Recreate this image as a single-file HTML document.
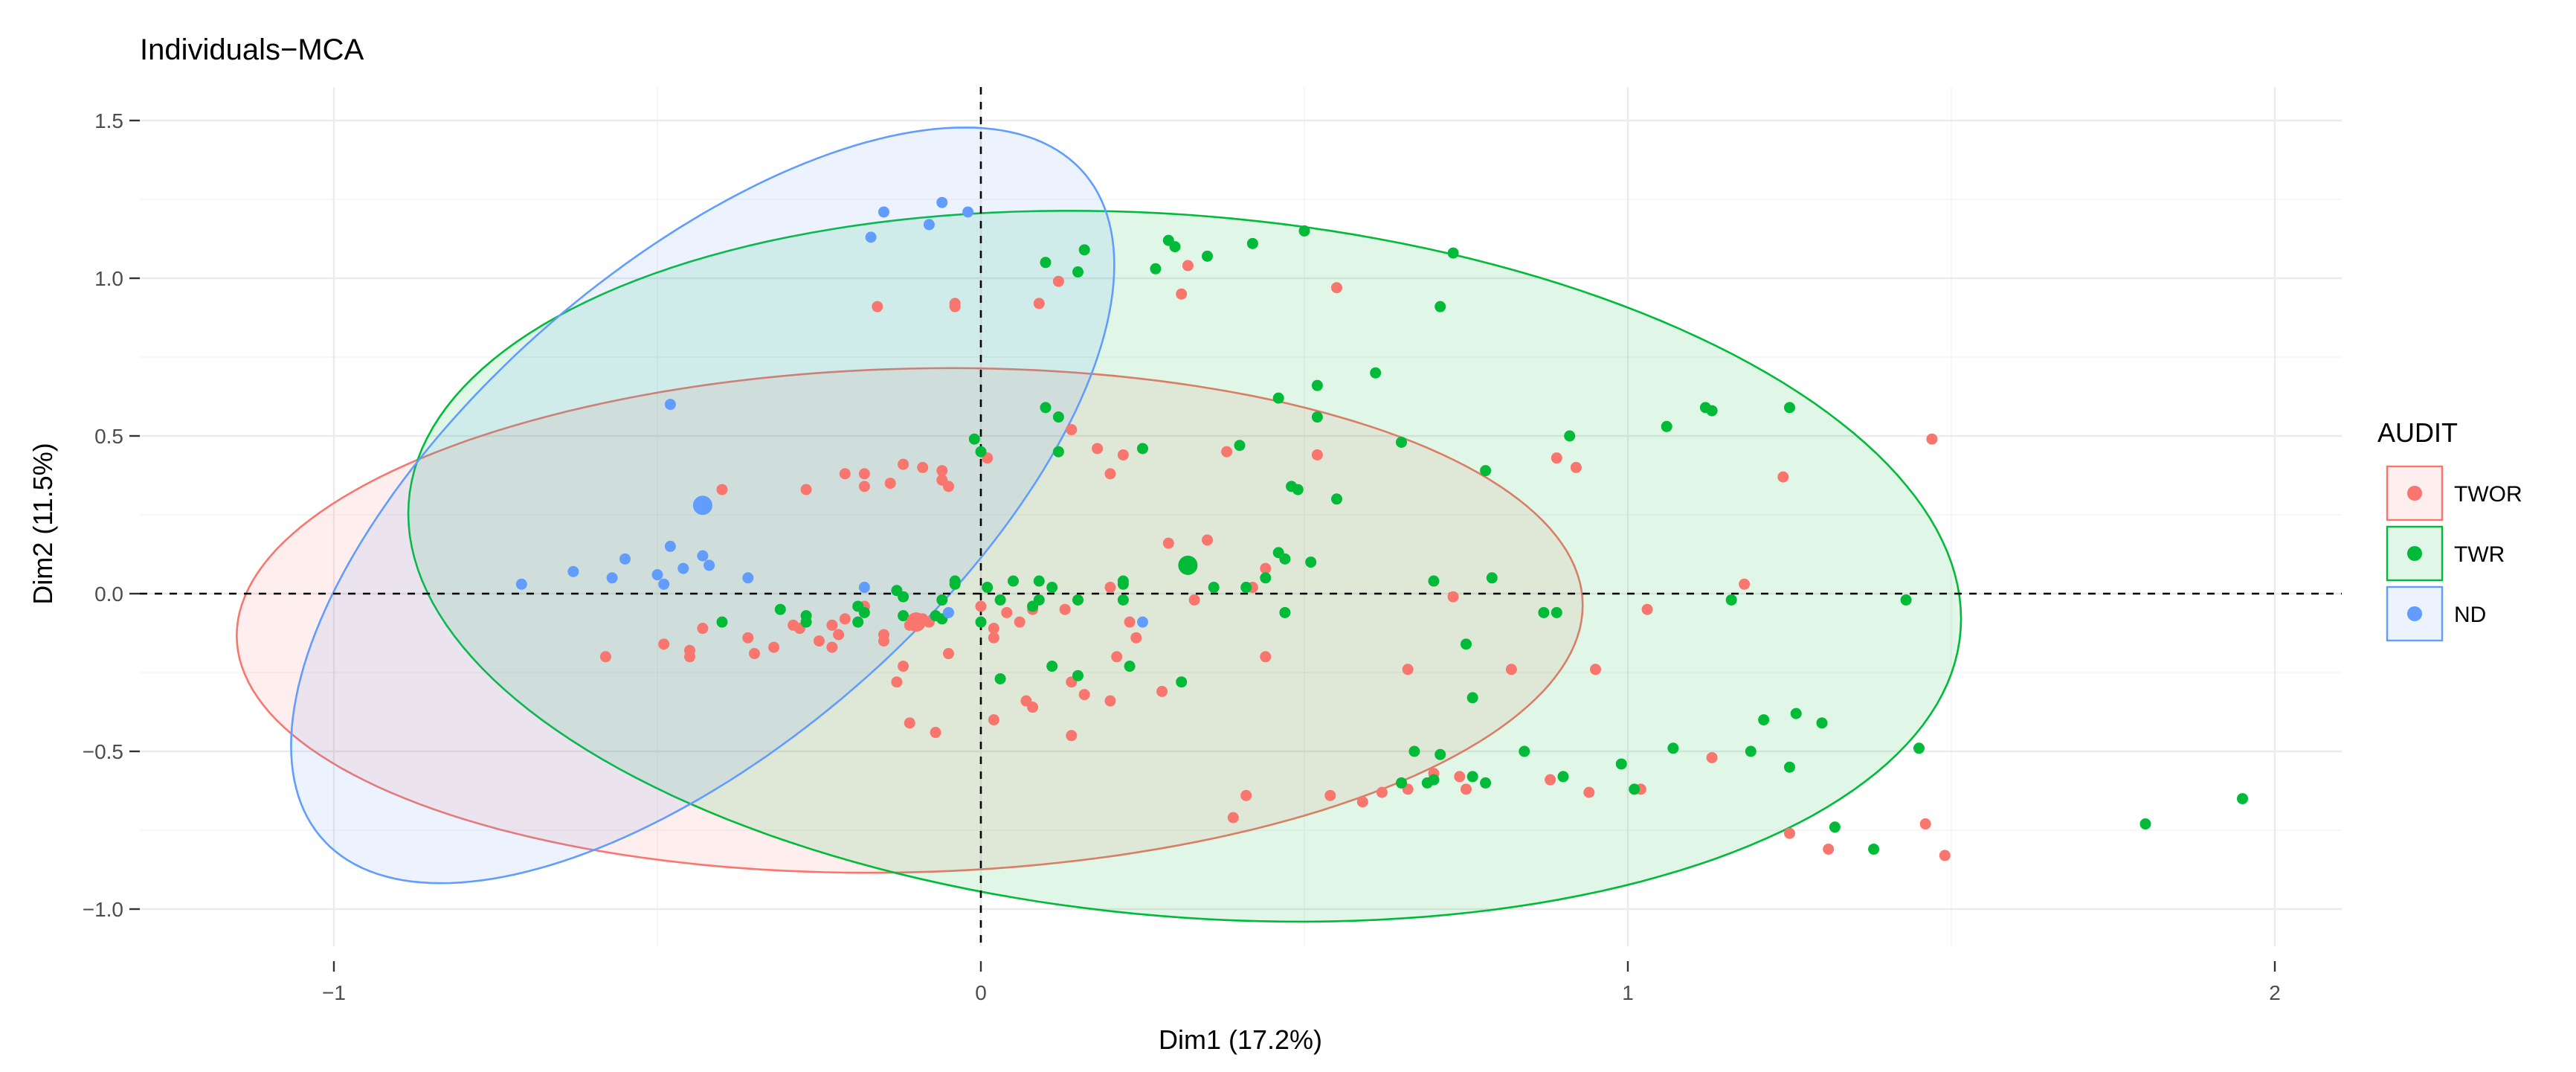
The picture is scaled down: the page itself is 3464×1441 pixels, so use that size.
<!DOCTYPE html>
<html><head><meta charset="utf-8"><style>
html,body{margin:0;padding:0;background:#fff;}
svg{display:block;font-family:"Liberation Sans",sans-serif;}
</style></head><body>
<svg id="chart" width="3464" height="1441" viewBox="0 0 3464 1441" xmlns="http://www.w3.org/2000/svg">
<rect width="3464" height="1441" fill="#fff"/>
<text x="188" y="80" font-size="40" fill="#000">Individuals−MCA</text>
<g id="grid"></g>
<g id="ellipses"></g>
<g id="refs"></g>
<g id="points"></g>
<g id="axes"></g>
<text x="1668" y="1410" font-size="36" text-anchor="middle" fill="#000">Dim1 (17.2%)</text>
<text transform="translate(70,704) rotate(-90)" font-size="36" text-anchor="middle" fill="#000">Dim2 (11.5%)</text>
<g id="legend"></g>
</svg>
<script>
const xTicks = [-1, 0, 1, 2];
const xMinor = [-0.5, 0.5, 1.5];
const yTicks = [-1.0, -0.5, 0.0, 0.5, 1.0, 1.5];
const yMinor = [-0.75, -0.25, 0.25, 0.75, 1.25];
const groups = ["TWOR", "TWR", "ND"];
const colors = ["#F8766D", "#00BA38", "#619CFF"];
const twor = [[-0.16,0.91],[-0.04,0.92],[-0.04,0.91],[0.09,0.92],[0.12,0.99],[0.32,1.04],[0.31,0.95],[0.55,0.97],[-0.40,0.33],[-0.27,0.33],[-0.21,0.38],[-0.18,0.34],[-0.18,0.38],[-0.14,0.35],[-0.12,0.41],[-0.09,0.40],[-0.06,0.39],[-0.06,0.36],[-0.05,0.34],[0.01,0.43],[0.14,0.52],[0.18,0.46],[0.22,0.44],[0.20,0.38],[0.38,0.45],[0.52,0.44],[0.89,0.43],[0.92,0.40],[1.24,0.37],[1.47,0.49],[0.29,0.16],[0.35,0.17],[0.44,0.08],[0.42,0.02],[0.33,-0.02],[0.20,0.02],[0.23,-0.09],[0.73,-0.01],[1.03,-0.05],[1.18,0.03],[-0.18,-0.04],[-0.21,-0.08],[-0.23,-0.10],[-0.28,-0.11],[-0.29,-0.10],[-0.25,-0.15],[-0.23,-0.17],[-0.32,-0.17],[-0.36,-0.14],[-0.35,-0.19],[-0.43,-0.11],[-0.49,-0.16],[-0.45,-0.18],[-0.45,-0.20],[-0.58,-0.20],[-0.22,-0.13],[-0.15,-0.13],[-0.15,-0.15],[-0.11,-0.10],[-0.09,-0.08],[-0.08,-0.09],[0.00,-0.04],[0.02,-0.14],[0.02,-0.11],[0.04,-0.06],[0.08,-0.05],[0.13,-0.05],[0.06,-0.09],[-0.12,-0.23],[-0.05,-0.19],[-0.13,-0.28],[0.21,-0.20],[0.24,-0.14],[0.20,-0.34],[0.14,-0.28],[0.16,-0.32],[0.07,-0.34],[0.08,-0.36],[0.14,-0.45],[0.02,-0.40],[-0.11,-0.41],[-0.07,-0.44],[0.28,-0.31],[0.44,-0.20],[0.66,-0.24],[0.82,-0.24],[0.95,-0.24],[0.41,-0.64],[0.39,-0.71],[0.54,-0.64],[0.59,-0.66],[0.62,-0.63],[0.66,-0.62],[0.70,-0.57],[0.74,-0.58],[0.75,-0.62],[0.88,-0.59],[0.94,-0.63],[1.02,-0.62],[1.13,-0.52],[1.25,-0.76],[1.31,-0.81],[1.46,-0.73],[1.49,-0.83]];
const twr = [[0.10,1.05],[0.16,1.09],[0.15,1.02],[0.29,1.12],[0.30,1.10],[0.35,1.07],[0.27,1.03],[0.42,1.11],[0.50,1.15],[0.73,1.08],[0.71,0.91],[0.61,0.70],[0.52,0.66],[0.46,0.62],[0.52,0.56],[1.12,0.59],[1.13,0.58],[1.25,0.59],[1.06,0.53],[0.91,0.50],[0.65,0.48],[0.78,0.39],[0.48,0.34],[0.49,0.33],[0.55,0.30],[0.10,0.59],[0.12,0.56],[-0.01,0.49],[0.00,0.45],[0.12,0.45],[0.25,0.46],[0.40,0.47],[0.46,0.13],[0.47,0.11],[0.51,0.10],[0.36,0.02],[0.41,0.02],[0.44,0.05],[0.22,0.04],[0.22,0.03],[0.09,0.04],[0.11,0.02],[0.05,0.04],[0.01,0.02],[-0.04,0.04],[-0.04,0.03],[-0.13,0.01],[-0.12,-0.01],[-0.06,-0.02],[0.70,0.04],[0.79,0.05],[1.16,-0.02],[1.43,-0.02],[0.47,-0.06],[0.87,-0.06],[0.89,-0.06],[-0.31,-0.05],[-0.40,-0.09],[-0.27,-0.07],[-0.27,-0.09],[-0.19,-0.04],[-0.18,-0.06],[-0.12,-0.07],[-0.19,-0.09],[-0.07,-0.07],[-0.06,-0.08],[0.00,-0.09],[0.08,-0.04],[0.09,-0.02],[0.15,-0.02],[0.22,-0.02],[0.03,-0.02],[0.11,-0.23],[0.15,-0.26],[0.23,-0.23],[0.03,-0.27],[0.31,-0.28],[0.75,-0.16],[0.76,-0.33],[0.67,-0.50],[0.71,-0.51],[0.84,-0.50],[0.99,-0.54],[1.07,-0.49],[1.19,-0.50],[1.21,-0.40],[1.26,-0.38],[1.30,-0.41],[1.25,-0.55],[1.45,-0.49],[0.90,-0.58],[0.76,-0.58],[0.78,-0.60],[0.70,-0.59],[0.69,-0.60],[0.65,-0.60],[1.01,-0.62],[1.32,-0.74],[1.38,-0.81],[1.80,-0.73],[1.95,-0.65]];
const nd = [[-0.15,1.21],[-0.17,1.13],[-0.06,1.24],[-0.08,1.17],[-0.02,1.21],[-0.48,0.60],[-0.71,0.03],[-0.63,0.07],[-0.57,0.05],[-0.55,0.11],[-0.50,0.06],[-0.49,0.03],[-0.48,0.15],[-0.46,0.08],[-0.43,0.12],[-0.42,0.09],[-0.36,0.05],[-0.18,0.02],[-0.05,-0.06],[0.25,-0.09]];
const groupMeans = [[-0.10,-0.09],[0.32,0.09],[-0.43,0.28]];
// ellipse params in data units: [cx, cy, varX, varY, covXY]
const ellipseParams = [[-0.11,-0.085,1.082,0.64,0.05],[0.315,0.087,1.44,1.27,-0.2],[-0.43,0.28,0.4047,1.435,0.4847]];

const NS = "http://www.w3.org/2000/svg";
const X0 = 188, X1 = 3149, Y0 = 117, Y1 = 1272;
function sx(v){ return 1319 + 870 * v; }
function sy(v){ return 798 - 424 * v; }
function mk(tag, attrs, parent){ const e = document.createElementNS(NS, tag); for (const k in attrs) e.setAttribute(k, attrs[k]); parent.appendChild(e); return e; }

const grid = document.getElementById('grid');
xMinor.forEach(v => { const l = mk('line', {x1: sx(v), x2: sx(v), y1: Y0, y2: Y1, stroke: '#f2f2f2', 'stroke-width': 1.3}, grid);
  
   });
yMinor.forEach(v => { const l = mk('line', {x1: X0, x2: X1, y1: sy(v), y2: sy(v), stroke: '#f2f2f2', 'stroke-width': 1.3}, grid);
  
   });
xTicks.forEach(v => { const l = mk('line', {x1: sx(v), x2: sx(v), y1: Y0, y2: Y1, stroke: '#ebebeb', 'stroke-width': 2.4}, grid);
  
   });
yTicks.forEach(v => { const l = mk('line', {x1: X0, x2: X1, y1: sy(v), y2: sy(v), stroke: '#ebebeb', 'stroke-width': 2.4}, grid);
  
   });

const fills = ['rgba(248,118,109,0.12)', 'rgba(0,186,56,0.12)', 'rgba(97,156,255,0.12)'];
const eg = document.getElementById('ellipses');
ellipseParams.forEach((p, i) => {
  const [cx, cy, vx, vy, cxy] = p;
  const a = Math.sqrt(vx), b = cxy / a, c = Math.sqrt(vy - b * b);
  let d = '';
  for (let k = 0; k <= 200; k++) { const t = k / 200 * 2 * Math.PI;
    const x = cx + a * Math.cos(t), y = cy + b * Math.cos(t) + c * Math.sin(t);
    d += (k ? 'L' : 'M') + sx(x).toFixed(1) + ',' + sy(y).toFixed(1); }
  const e = mk('path', {d: d + 'Z', fill: fills[i], stroke: colors[i], 'stroke-width': 2.6}, eg);
  
  
});

const refs = document.getElementById('refs');
const hl = mk('line', {x1: X0, x2: X1, y1: sy(0), y2: sy(0), stroke: '#000', 'stroke-width': 2.6, 'stroke-dasharray': '10,10'}, refs);


const vl = mk('line', {x1: sx(0), x2: sx(0), y1: Y0, y2: Y1, stroke: '#000', 'stroke-width': 2.6, 'stroke-dasharray': '10,10'}, refs);



const pg = document.getElementById('points');
[twor, twr, nd].forEach((arr, i) => {
  arr.forEach(pt => { const c = mk('circle', {cx: sx(pt[0]), cy: sy(pt[1]), r: 7.5, fill: colors[i]}, pg);
    
     });
});
groupMeans.forEach((pt, i) => { const c = mk('circle', {cx: sx(pt[0]), cy: sy(pt[1]), r: 13, fill: colors[i]}, pg);
  
   });

const ax = document.getElementById('axes');
xTicks.forEach(v => {
  const t = mk('line', {x1: sx(v), x2: sx(v), y1: Y1 + 20, y2: Y1 + 34, stroke: '#333', 'stroke-width': 2.4}, ax);
  
  
  const tx = mk('text', {x: sx(v), y: Y1 + 72, 'font-size': 28, 'text-anchor': 'middle', fill: '#4d4d4d'}, ax);
  tx.textContent = v < 0 ? '−' + Math.abs(v) : String(v);
  
  
});
yTicks.forEach(v => {
  const t = mk('line', {x1: 174, x2: 188, y1: sy(v), y2: sy(v), stroke: '#333', 'stroke-width': 2.4}, ax);
  
  
  const tx = mk('text', {x: 166, y: sy(v) + 10, 'font-size': 28, 'text-anchor': 'end', fill: '#4d4d4d'}, ax);
  tx.textContent = (v < 0 ? '−' : '') + Math.abs(v).toFixed(1);
  
  
});

const lg = document.getElementById('legend');
const lt = mk('text', {x: 3197, y: 594, 'font-size': 36, fill: '#000'}, lg);
lt.textContent = 'AUDIT';


groups.forEach((g, i) => {
  const yc = 663 + i * 81;
  const r = mk('rect', {x: 3210, y: yc - 36, width: 74, height: 72, fill: fills[i], stroke: colors[i], 'stroke-width': 2.4}, lg);
  
  
  const c = mk('circle', {cx: 3247, cy: yc, r: 10, fill: colors[i]}, lg);
  
  
  const t = mk('text', {x: 3300, y: yc + 11, 'font-size': 30, fill: '#000'}, lg);
  t.textContent = g;
  
  
});
</script>
</body></html>
